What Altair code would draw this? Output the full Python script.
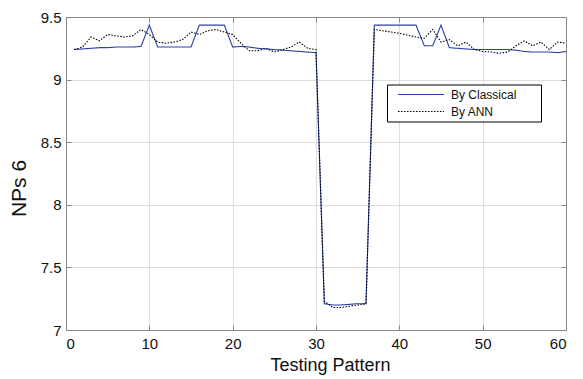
import altair as alt
import pandas as pd

pattern = list(range(1, 61))

classical = [9.24, 9.245, 9.25, 9.255, 9.255, 9.26, 9.26, 9.26, 9.265, 9.435,
             9.26, 9.26, 9.26, 9.26, 9.26, 9.435, 9.435, 9.435, 9.435, 9.26,
             9.265, 9.26, 9.25, 9.245, 9.24, 9.235, 9.23, 9.225, 9.22, 9.215,
             7.21, 7.20, 7.20, 7.205, 7.21, 7.21, 9.435, 9.435, 9.435, 9.435,
             9.435, 9.435, 9.27, 9.27, 9.435, 9.255, 9.25, 9.245, 9.24, 9.24,
             9.24, 9.24, 9.24, 9.235, 9.225, 9.22, 9.22, 9.22, 9.215, 9.225]

ann = [9.24, 9.26, 9.34, 9.31, 9.36, 9.35, 9.34, 9.35, 9.40, 9.36,
       9.30, 9.29, 9.30, 9.32, 9.38, 9.36, 9.39, 9.40, 9.38, 9.36,
       9.29, 9.23, 9.23, 9.25, 9.22, 9.24, 9.26, 9.30, 9.25, 9.24,
       7.23, 7.18, 7.18, 7.19, 7.20, 7.21, 9.40, 9.39, 9.38, 9.37,
       9.355, 9.34, 9.33, 9.40, 9.30, 9.32, 9.27, 9.30, 9.24, 9.225,
       9.22, 9.21, 9.22, 9.27, 9.31, 9.27, 9.30, 9.24, 9.30, 9.29]

series_names = ["By Classical", "By ANN"]
x_ticks = [0, 10, 20, 30, 40, 50, 60]
y_ticks = [7, 7.5, 8, 8.5, 9, 9.5]

df = pd.DataFrame({
    "pattern": pattern * 2,
    "value": classical + ann,
    "series": [series_names[0]] * len(pattern) + [series_names[1]] * len(pattern),
})

W, H = 500, 313
FONT = "Liberation Sans"
TXT = "#111"

xs = alt.Scale(domain=[0, 60], nice=False, zero=False)
ys = alt.Scale(domain=[7, 9.5], nice=False, zero=False)

legend = alt.Legend(
    orient="none", legendX=321, legendY=67.5, title=None,
    symbolType="M-1,0H10.5", symbolSize=64, symbolStrokeWidth=1, symbolOffset=5,
    labelFontSize=12, labelFont=FONT, labelColor=TXT,
    strokeColor="black", fillColor="white", padding=4, rowPadding=5,
    labelOffset=43, labelExpr="datum.label + '" + "\u00a0" * 6 + "\u200b'",
)

lines = alt.Chart(df).mark_line(strokeWidth=1.1).encode(
    x=alt.X("pattern:Q", scale=xs, axis=alt.Axis(
        orient="bottom", values=x_ticks, ticks=False, tickSize=0, labelPadding=6,
        labelFontSize=15, labelFont=FONT, labelColor=TXT,
        title="Testing Pattern", titleFontSize=18, titlePadding=5, titleFont=FONT,
        titleColor=TXT, titleFontWeight="normal", titleX=264)),
    y=alt.Y("value:Q", scale=ys, axis=alt.Axis(
        orient="left", values=y_ticks, ticks=False, tickSize=0, labelPadding=5,
        labelFontSize=15, labelFont=FONT, labelColor=TXT,
        format=".1~f", title="NPs 6", titleFontSize=21, titlePadding=11, titleFont=FONT,
        titleColor=TXT, titleFontWeight="normal", titleY=171)),
    color=alt.Color("series:N", scale=alt.Scale(domain=series_names, range=["#2b3fa6", "black"]),
                    sort=series_names, legend=legend),
    strokeDash=alt.StrokeDash("series:N", scale=alt.Scale(domain=series_names, range=[[1, 0], [1.5, 1.5]]),
                              sort=series_names, legend=legend),
)

ticks_a = alt.Chart(df).mark_point(opacity=0).encode(
    x=alt.X("pattern:Q", scale=xs, axis=alt.Axis(orient="top", offset=-H, values=x_ticks,
                                                  labels=False, title=None, tickSize=5)),
    y=alt.Y("value:Q", scale=ys, axis=alt.Axis(orient="right", offset=-W, values=y_ticks,
                                                labels=False, title=None, tickSize=5)),
)

ticks_b = alt.Chart(df).mark_point(opacity=0).encode(
    x=alt.X("pattern:Q", scale=xs, axis=alt.Axis(orient="bottom", offset=-H, values=x_ticks,
                                                  labels=False, title=None, tickSize=5)),
    y=alt.Y("value:Q", scale=ys, axis=alt.Axis(orient="left", offset=-W, values=y_ticks,
                                                labels=False, title=None, tickSize=5)),
)

chart = alt.layer(lines, ticks_a, ticks_b).resolve_axis(
    x="independent", y="independent"
).properties(
    width=W, height=H, autosize=alt.AutoSizeParams(type="none"),
    padding={"left": 58, "top": 9, "right": 9, "bottom": 56},
).configure_view(
    stroke="black", strokeWidth=1
).configure_axis(
    domain=False, grid=False, tickColor="black", tickWidth=1,
).configure(background="white")

chart.save("out.html", embed_options={"renderer": "svg", "actions": False})
